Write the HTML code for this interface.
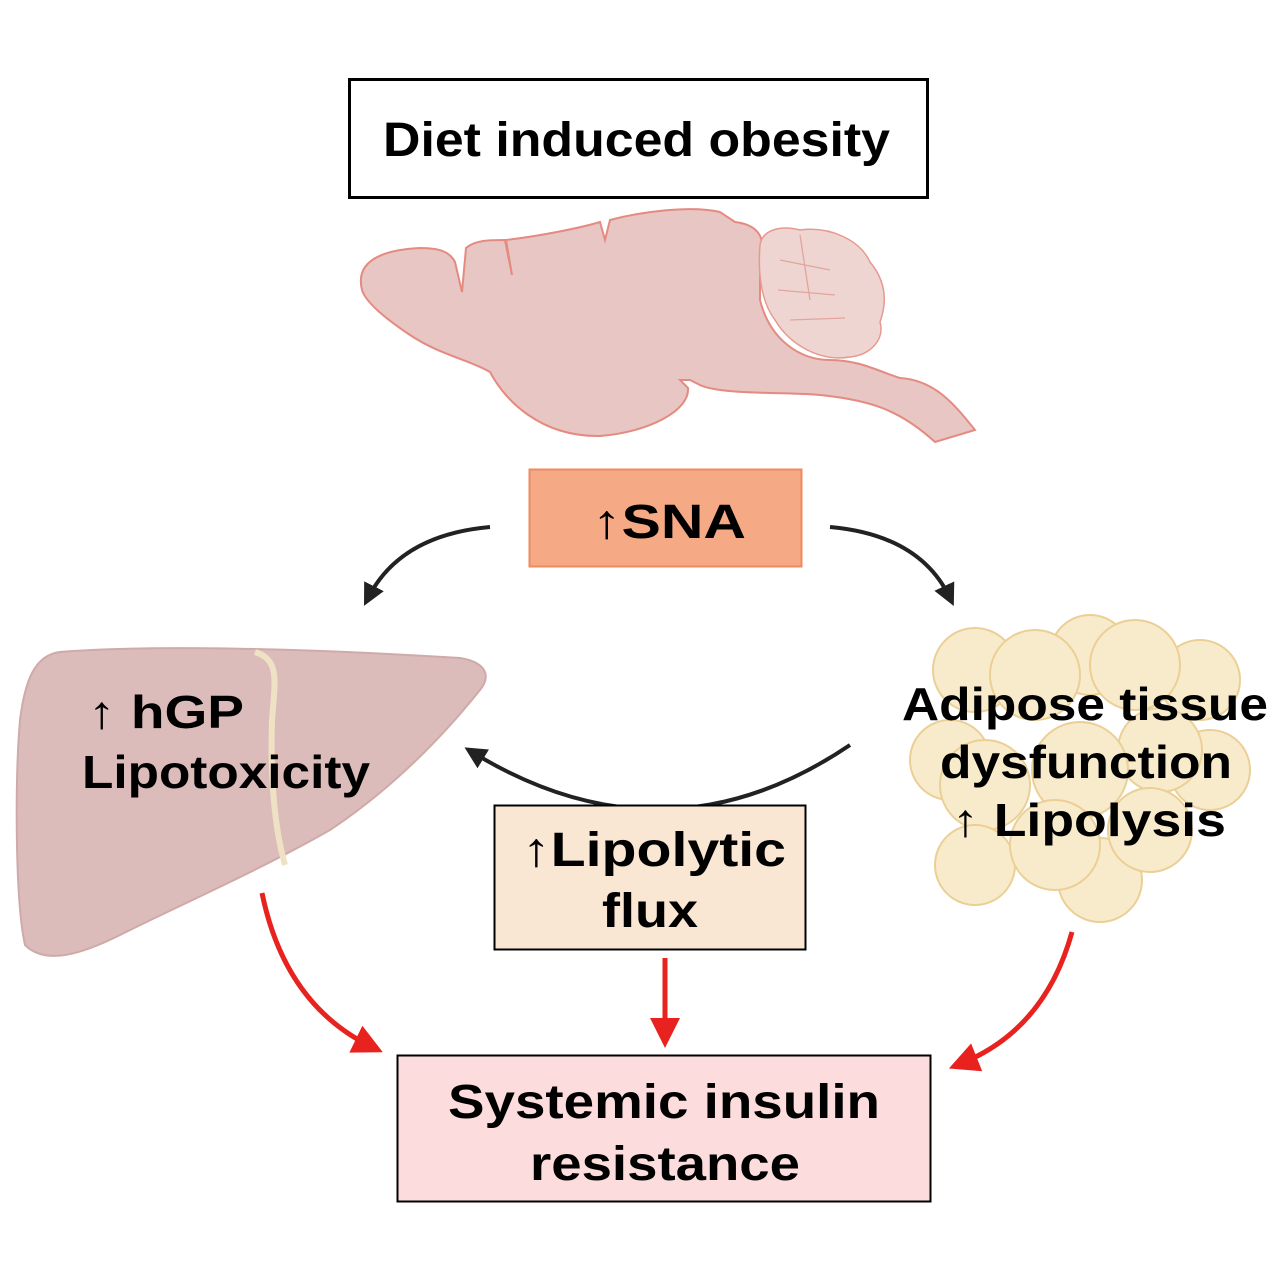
<!DOCTYPE html>
<html><head><meta charset="utf-8"><style>
html,body{margin:0;padding:0;background:#fff}
svg text{font-family:"Liberation Sans",Arial,sans-serif;font-weight:bold;fill:#000}
</style></head><body>
<svg width="1280" height="1280" viewBox="0 0 1280 1280" xmlns="http://www.w3.org/2000/svg">
<defs>
<marker id="ab" markerWidth="22" markerHeight="22" refX="6" refY="5" orient="auto" markerUnits="userSpaceOnUse" viewBox="0 0 10 10"><path d="M0,0 L10,5 L0,10 Z" fill="#222"/></marker>
<marker id="ar" markerWidth="30" markerHeight="30" refX="6" refY="5" orient="auto" markerUnits="userSpaceOnUse" viewBox="0 0 10 10"><path d="M0,0 L10,5 L0,10 Z" fill="#e8231f"/></marker>
</defs>
<rect x="349.5" y="79.5" width="578" height="118" fill="#fff" stroke="#000" stroke-width="3"/>
<text x="383" y="156" font-size="48" textLength="507" lengthAdjust="spacingAndGlyphs">Diet induced obesity</text>
<path d="M362,290 C355,262 380,250 420,248 C440,248 450,252 455,262 L462,292 L466,248 C475,240 490,240 505,240 L512,275 L506,240 C540,236 580,228 600,222 L605,240 L610,220 C640,212 690,205 720,212 L735,222 C760,225 765,240 760,252 L760,300 C770,340 800,360 830,360 C860,360 880,372 900,378 C935,380 955,405 975,430 L935,442 C900,410 870,400 820,395 C790,392 720,395 700,385 L690,380 L680,380 L688,388 C690,410 650,432 600,436 C540,437 505,400 490,372 C470,360 440,355 410,335 C380,315 365,300 362,290 Z" fill="#e7c6c3" stroke="#e58a80" stroke-width="2"/>
<path d="M760,245 C762,230 780,225 800,230 C830,226 860,240 870,262 C885,280 888,300 880,322 C885,340 870,355 850,357 C820,362 790,345 775,320 C760,300 758,270 760,245 Z" fill="#efd5d2" stroke="#e59a90" stroke-width="1.5"/>
<path d="M780,260 L830,270 M778,290 L835,295 M790,320 L845,318 M800,235 L810,300" stroke="#e2a49c" stroke-width="1.3" fill="none"/>
<rect x="529.5" y="469.5" width="272" height="97" fill="#f6a985" stroke="#ec8a60" stroke-width="2"/>
<text x="592" y="538" font-size="48" textLength="154" lengthAdjust="spacingAndGlyphs">↑SNA</text>
<path d="M490,527 Q400,535 368,598" fill="none" stroke="#222" stroke-width="4" marker-end="url(#ab)"/>
<path d="M830,527 Q920,535 950,598" fill="none" stroke="#222" stroke-width="4" marker-end="url(#ab)"/>
<path d="M850,745 Q665,870 472,752" fill="none" stroke="#222" stroke-width="4" marker-end="url(#ab)"/>
<path d="M60,652 C150,645 300,648 460,658 C485,662 492,675 480,690 C440,740 390,790 330,830 C260,870 180,905 120,935 C80,955 45,965 25,945 C15,900 15,780 20,720 C25,680 35,655 60,652 Z" fill="#dbbcbb" stroke="#cfaaa8" stroke-width="2"/>
<path d="M255,652 C280,660 275,680 272,720 C270,780 275,830 285,865" fill="none" stroke="#efe2c4" stroke-width="6"/>
<text x="88" y="728" font-size="46" textLength="156" lengthAdjust="spacingAndGlyphs">↑ hGP</text>
<text x="82" y="788" font-size="46" textLength="288" lengthAdjust="spacingAndGlyphs">Lipotoxicity</text>
<g fill="#f8ebcb" stroke="#ebcf95" stroke-width="2">
<circle cx="1090" cy="655" r="40"/><circle cx="1200" cy="680" r="40"/><circle cx="975" cy="670" r="42"/>
<circle cx="1035" cy="675" r="45"/><circle cx="1135" cy="665" r="45"/>
<circle cx="950" cy="760" r="40"/><circle cx="1210" cy="770" r="40"/><circle cx="1160" cy="750" r="42"/>
<circle cx="985" cy="785" r="45"/><circle cx="1080" cy="770" r="48"/>
<circle cx="975" cy="865" r="40"/><circle cx="1100" cy="880" r="42"/><circle cx="1055" cy="845" r="45"/><circle cx="1150" cy="830" r="42"/>
</g>
<text x="902" y="720" font-size="46" textLength="366" lengthAdjust="spacingAndGlyphs">Adipose tissue</text>
<text x="940" y="778" font-size="46" textLength="292" lengthAdjust="spacingAndGlyphs">dysfunction</text>
<text x="952" y="836" font-size="46" textLength="274" lengthAdjust="spacingAndGlyphs">↑ Lipolysis</text>
<rect x="494.5" y="805.5" width="311" height="144" fill="#f9e6d3" stroke="#000" stroke-width="2"/>
<text x="522" y="866" font-size="48" textLength="264" lengthAdjust="spacingAndGlyphs">↑Lipolytic</text>
<text x="602" y="927" font-size="48" textLength="96" lengthAdjust="spacingAndGlyphs">flux</text>
<path d="M262,893 Q285,1005 372,1047" fill="none" stroke="#e8231f" stroke-width="5" marker-end="url(#ar)"/>
<path d="M665,958 L665,1036" fill="none" stroke="#e8231f" stroke-width="5" marker-end="url(#ar)"/>
<path d="M1072,932 Q1045,1030 960,1064" fill="none" stroke="#e8231f" stroke-width="5" marker-end="url(#ar)"/>
<rect x="397.5" y="1055.5" width="533" height="146" fill="#fcdcdc" stroke="#000" stroke-width="2"/>
<text x="448" y="1118" font-size="48" textLength="432" lengthAdjust="spacingAndGlyphs">Systemic insulin</text>
<text x="530" y="1180" font-size="48" textLength="270" lengthAdjust="spacingAndGlyphs">resistance</text>
</svg>
</body></html>
